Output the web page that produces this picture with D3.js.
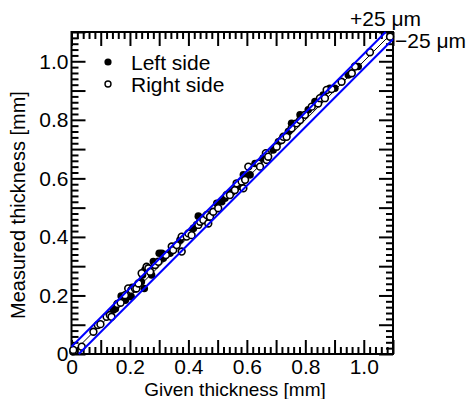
<!DOCTYPE html>
<html>
<head>
<meta charset="utf-8">
<script src="https://cdn.jsdelivr.net/npm/d3@7"></script>
<style>
  body { margin: 0; background: #fff; }
  text { font-family: "Liberation Sans", Arial, Helvetica, sans-serif; fill: #000; }
</style>
</head>
<body>
<script>
(function() {
    var w = 468;
    var h = 399;

    // tick labels on both axes
    var labelValues = [0, 0.2, 0.4, 0.6, 0.8, 1.0];
    var labelTexts = ["0", "0.2", "0.4", "0.6", "0.8", "1.0"];

    // Left side (filled markers)
    var leftGiven = [0.005, 0.143, 0.150, 0.170, 0.184, 0.204, 0.208, 0.239, 0.243, 0.249,
                     0.251, 0.274, 0.280, 0.300, 0.309, 0.314, 0.337, 0.371, 0.417, 0.428,
                     0.434, 0.457, 0.497, 0.514, 0.525, 0.548, 0.571, 0.588, 0.611, 0.628,
                     0.656, 0.690, 0.708, 0.742, 0.753, 0.782, 0.810, 0.833, 0.861, 0.884,
                     0.901, 0.947, 0.981];
    var leftMeasured = [0.008, 0.150, 0.155, 0.198, 0.184, 0.196, 0.228, 0.247, 0.270, 0.224,
                        0.287, 0.270, 0.316, 0.344, 0.344, 0.327, 0.344, 0.389, 0.429, 0.441,
                        0.471, 0.469, 0.515, 0.520, 0.532, 0.552, 0.572, 0.612, 0.612, 0.651,
                        0.669, 0.697, 0.725, 0.760, 0.788, 0.817, 0.834, 0.862, 0.885, 0.908,
                        0.908, 0.953, 0.982];

    // Right side (open markers)
    var rightGiven = [0.006, 0.035, 0.075, 0.090, 0.099, 0.120, 0.131, 0.137, 0.157, 0.168,
                      0.183, 0.194, 0.205, 0.217, 0.222, 0.229, 0.240, 0.257, 0.263, 0.269,
                      0.286, 0.297, 0.323, 0.343, 0.348, 0.360, 0.377, 0.377, 0.394, 0.400,
                      0.411, 0.434, 0.440, 0.451, 0.463, 0.468, 0.474, 0.485, 0.502, 0.531,
                      0.542, 0.559, 0.565, 0.582, 0.588, 0.594, 0.605, 0.639, 0.645, 0.665,
                      0.668, 0.673, 0.702, 0.719, 0.725, 0.736, 0.753, 0.770, 0.782, 0.799,
                      0.822, 0.844, 0.850, 0.867, 0.873, 0.890, 0.924, 0.959, 0.970, 1.021,
                      1.090];
    var rightMeasured = [0.014, 0.025, 0.076, 0.099, 0.102, 0.127, 0.133, 0.127, 0.171, 0.175,
                         0.201, 0.224, 0.219, 0.224, 0.224, 0.241, 0.276, 0.298, 0.293, 0.281,
                         0.304, 0.315, 0.338, 0.367, 0.355, 0.372, 0.350, 0.401, 0.401, 0.412,
                         0.406, 0.441, 0.452, 0.458, 0.475, 0.446, 0.469, 0.486, 0.498, 0.543,
                         0.543, 0.560, 0.583, 0.589, 0.566, 0.595, 0.640, 0.651, 0.640, 0.686,
                         0.663, 0.674, 0.708, 0.731, 0.742, 0.742, 0.771, 0.788, 0.799, 0.817,
                         0.845, 0.856, 0.874, 0.874, 0.902, 0.905, 0.930, 0.959, 0.982, 1.031,
                         1.084];

    var tolerance = 0.025; // +-25 um

    var x = d3.scaleLinear().domain([0, 1.1]).range([71.5, 393]);
    var y = d3.scaleLinear().domain([0, 1.1]).range([354, 32]);

    var svg = d3.select("body").append("svg")
        .attr("width", w)
        .attr("height", h);

    // tick values: major every 0.1, minor every 0.02
    var major = [], minor = [];
    for (var i = 0; i <= 55; i++) {
        if (i % 5 === 0) major.push(i / 50); else minor.push(i / 50);
    }

    function fmt(d) {
        for (var k = 0; k < labelValues.length; k++) {
            if (Math.abs(labelValues[k] - d) < 1e-6) return labelTexts[k];
        }
        return "";
    }

    function styleAxis(g) {
        g.select(".domain").remove();
        g.selectAll("line").attr("stroke", "#000").attr("stroke-width", 2);
        g.selectAll("text").style("font-size", "21px").attr("fill", "#000");
    }

    // bottom
    svg.append("g").attr("transform", "translate(0," + y(0) + ")")
        .call(d3.axisBottom(x).tickValues(major).tickSize(-14).tickPadding(5).tickFormat(fmt))
        .call(styleAxis);
    svg.append("g").attr("transform", "translate(0," + y(0) + ")")
        .call(d3.axisBottom(x).tickValues(minor).tickSize(-7).tickFormat(""))
        .call(styleAxis);
    // top
    svg.append("g").attr("transform", "translate(0," + y(1.1) + ")")
        .call(d3.axisTop(x).tickValues(major).tickSize(-14).tickFormat(""))
        .call(styleAxis);
    svg.append("g").attr("transform", "translate(0," + y(1.1) + ")")
        .call(d3.axisTop(x).tickValues(minor).tickSize(-7).tickFormat(""))
        .call(styleAxis);
    // left
    svg.append("g").attr("transform", "translate(" + x(0) + ",0)")
        .call(d3.axisLeft(y).tickValues(major).tickSize(-14).tickPadding(3).tickFormat(fmt))
        .call(styleAxis);
    svg.append("g").attr("transform", "translate(" + x(0) + ",0)")
        .call(d3.axisLeft(y).tickValues(minor).tickSize(-7).tickFormat(""))
        .call(styleAxis);
    // right
    svg.append("g").attr("transform", "translate(" + x(1.1) + ",0)")
        .call(d3.axisRight(y).tickValues(major).tickSize(-14).tickFormat(""))
        .call(styleAxis);
    svg.append("g").attr("transform", "translate(" + x(1.1) + ",0)")
        .call(d3.axisRight(y).tickValues(minor).tickSize(-7).tickFormat(""))
        .call(styleAxis);

    // frame
    svg.append("rect")
        .attr("x", x(0)).attr("y", y(1.1))
        .attr("width", x(1.1) - x(0)).attr("height", y(0) - y(1.1))
        .attr("fill", "none").attr("stroke", "#000").attr("stroke-width", 2);

    // y = x reference line
    svg.append("line")
        .attr("x1", x(0)).attr("y1", y(0))
        .attr("x2", x(1.1)).attr("y2", y(1.1))
        .attr("stroke", "#000").attr("stroke-width", 1);

    var leftData = leftGiven.map(function(d, i) { return {g: d, m: leftMeasured[i]}; });
    var rightData = rightGiven.map(function(d, i) { return {g: d, m: rightMeasured[i]}; });

    svg.append("g").selectAll("circle")
        .data(leftData)
        .enter()
        .append("circle")
        .attr("cx", function(d) { return x(d.g); })
        .attr("cy", function(d) { return y(d.m); })
        .attr("r", 3.8)
        .attr("fill", "#000");

    svg.append("g").selectAll("circle")
        .data(rightData)
        .enter()
        .append("circle")
        .attr("cx", function(d) { return x(d.g); })
        .attr("cy", function(d) { return y(d.m); })
        .attr("r", 3.4)
        .attr("fill", "#fff")
        .attr("stroke", "#000")
        .attr("stroke-width", 1.6);

    // +-25 um lines
    svg.append("line")
        .attr("x1", x(0)).attr("y1", y(tolerance))
        .attr("x2", x(1.1 - tolerance)).attr("y2", y(1.1))
        .attr("stroke", "#0000ff").attr("stroke-width", 2);
    svg.append("line")
        .attr("x1", x(tolerance)).attr("y1", y(0))
        .attr("x2", x(1.1)).attr("y2", y(1.1 - tolerance))
        .attr("stroke", "#0000ff").attr("stroke-width", 2);

    svg.append("text").attr("x", 350).attr("y", 26)
        .style("font-size", "21px").text("+25 \u03bcm");
    svg.append("text").attr("x", 395).attr("y", 48)
        .style("font-size", "21px").text("\u221225 \u03bcm");

    // legend
    svg.append("circle").attr("cx", 108).attr("cy", 62).attr("r", 3.6).attr("fill", "#000");
    svg.append("circle").attr("cx", 108).attr("cy", 84).attr("r", 3)
        .attr("fill", "#fff").attr("stroke", "#000").attr("stroke-width", 1.4);
    svg.append("text").attr("x", 131).attr("y", 70).style("font-size", "21px").text("Left side");
    svg.append("text").attr("x", 131).attr("y", 92).style("font-size", "21px").text("Right side");

    // axis titles
    svg.append("text")
        .attr("x", 235).attr("y", 396)
        .attr("text-anchor", "middle")
        .style("font-size", "19px")
        .text("Given thickness [mm]");
    svg.append("text")
        .attr("transform", "translate(25,205) rotate(-90)")
        .attr("text-anchor", "middle")
        .style("font-size", "20px")
        .text("Measured thickness [mm]");
})();
</script>
</body>
</html>
